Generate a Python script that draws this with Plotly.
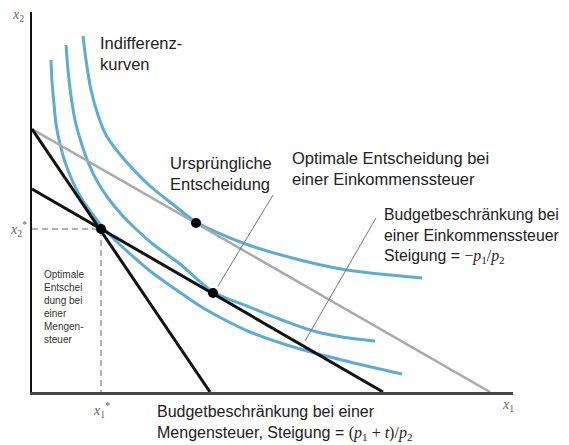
import plotly.graph_objects as go

# Indifference curves (x1, x2) in arbitrary units, innermost to outermost
ic_a_x = [19, 20, 22, 24, 28, 33, 40, 48, 58, 69, 82, 96, 118, 143, 168, 193, 218, 268, 318, 370]
ic_a_y = [332, 310, 288, 268, 248, 230, 212, 196, 181, 167, 153, 140, 121, 103, 86, 72, 60, 43, 30, 18]
ic_b_x = [34, 36, 39, 43, 49, 56, 65, 76, 90, 105, 122, 148, 181, 215, 250, 278, 310, 343]
ic_b_y = [347, 322, 296, 272, 250, 230, 211, 194, 177, 162, 147, 128, 100, 86, 72, 62, 55, 51]
ic_c_x = [51, 54, 59, 66, 74, 86, 100, 118, 143, 164, 211, 268, 315, 390]
ic_c_y = [356, 332, 302, 277, 257, 240, 224, 206, 186, 170, 149, 132, 122, 114]

# Budget lines: (x2 intercept, x1 intercept)
budget_income_tax = (263, 458)     # grey
budget_quantity_tax = (263, 178)   # black, steep
budget_flat = (203, 351)           # black, flatter

# Chosen points
pt_quantity = (69, 163)
pt_original = (164, 169)
pt_income = (181, 99)

# Leader lines
leader1 = ([241, 186], [197, 106])
leader2 = ([344, 273], [174, 51])

X_MAX, Y_MAX = 481, 380

BLUE = "rgb(92,172,212)"
TXT = "#222222"
SANS = "Liberation Sans, Arial, sans-serif"
SERIF = "Liberation Serif, Times New Roman, serif"

fig = go.Figure()

for xs, ys in [(ic_a_x, ic_a_y), (ic_b_x, ic_b_y), (ic_c_x, ic_c_y)]:
    fig.add_trace(go.Scatter(x=xs, y=ys, mode="lines",
                             line=dict(color=BLUE, width=3, shape="spline", smoothing=0.8),
                             hoverinfo="skip"))

for (yi, xi), col, w in [(budget_income_tax, "#aaaaaa", 2.5), (budget_quantity_tax, "#111111", 3),
                         (budget_flat, "#111111", 3)]:
    fig.add_trace(go.Scatter(x=[0, xi], y=[yi, 0], mode="lines", line=dict(color=col, width=w), hoverinfo="skip"))

# dashed guides
fig.add_trace(go.Scatter(x=[0, pt_quantity[0], pt_quantity[0]], y=[pt_quantity[1], pt_quantity[1], 0],
                         mode="lines", line=dict(color="#999999", width=1.5, dash="6px,4px"), hoverinfo="skip"))

for lx, ly in [leader1, leader2]:
    fig.add_trace(go.Scatter(x=lx, y=ly, mode="lines", line=dict(color="#777777", width=1), hoverinfo="skip"))

fig.add_trace(go.Scatter(x=[pt_quantity[0], pt_original[0], pt_income[0]],
                         y=[pt_quantity[1], pt_original[1], pt_income[1]],
                         mode="markers", marker=dict(color="black", size=10), hoverinfo="skip", cliponaxis=False))

def ann(x, y, text, size=16.5, color=TXT, family=SANS, xanchor="left", align="left"):
    # positions given in data units, placed via paper fractions so out-of-range labels still show
    fig.add_annotation(x=x / X_MAX, y=y / Y_MAX, xref="paper", yref="paper", text=text, showarrow=False,
                       xanchor=xanchor, yanchor="middle", align=align,
                       font=dict(size=size, color=color, family=family))

ann(66, 339, "Indifferenz-<br>kurven")
ann(136, 219, "Ursprüngliche<br>Entscheidung")
ann(258, 224, "Optimale Entscheidung bei<br>einer Einkommenssteuer")
ann(350, 156, "Budgetbeschränkung bei<br>einer Einkommenssteuer<br>Steigung = "
    "<span style='font-family:Liberation Serif'>−<i>p</i><sub>1</sub>/<i>p</i><sub>2</sub></span>", size=15.8)
ann(123, -31, "Budgetbeschränkung bei einer<br>Mengensteuer, Steigung = "
    "<span style='font-family:Liberation Serif'>(<i>p</i><sub>1</sub> + <i>t</i>)/<i>p</i><sub>2</sub></span>",
    size=16)
ann(10, 85, "Optimale<br>Entschei<br>dung bei<br>einer<br>Mengen-<br>steuer", size=10, color="#333333")

ann(-14, 377, "<i>x</i><sub>2</sub>", size=14, color="#666666", family=SERIF, xanchor="center")
ann(-14, 163, "<i>x</i><sub>2</sub><sup>*</sup>", size=14, color="#666666", family=SERIF, xanchor="center")
ann(69, -18, "<i>x</i><sub>1</sub><sup>*</sup>", size=14, color="#666666", family=SERIF, xanchor="center")
ann(476, -14, "<i>x</i><sub>1</sub>", size=14, color="#666666", family=SERIF, xanchor="center")

# page body has an 8px margin: figure is sized/offset to compensate
fig.update_layout(
    width=561, height=437,
    margin=dict(l=24, r=56, t=4, b=53),
    paper_bgcolor="white", plot_bgcolor="white",
    showlegend=False,
    xaxis=dict(range=[0, X_MAX], showgrid=False, zeroline=False, showticklabels=False, ticks="",
               showline=True, linecolor="#444444", linewidth=3, fixedrange=True),
    yaxis=dict(range=[0, Y_MAX], showgrid=False, zeroline=False, showticklabels=False, ticks="",
               showline=True, linecolor="#111111", linewidth=2, fixedrange=True),
)

fig.write_html("out.html")
